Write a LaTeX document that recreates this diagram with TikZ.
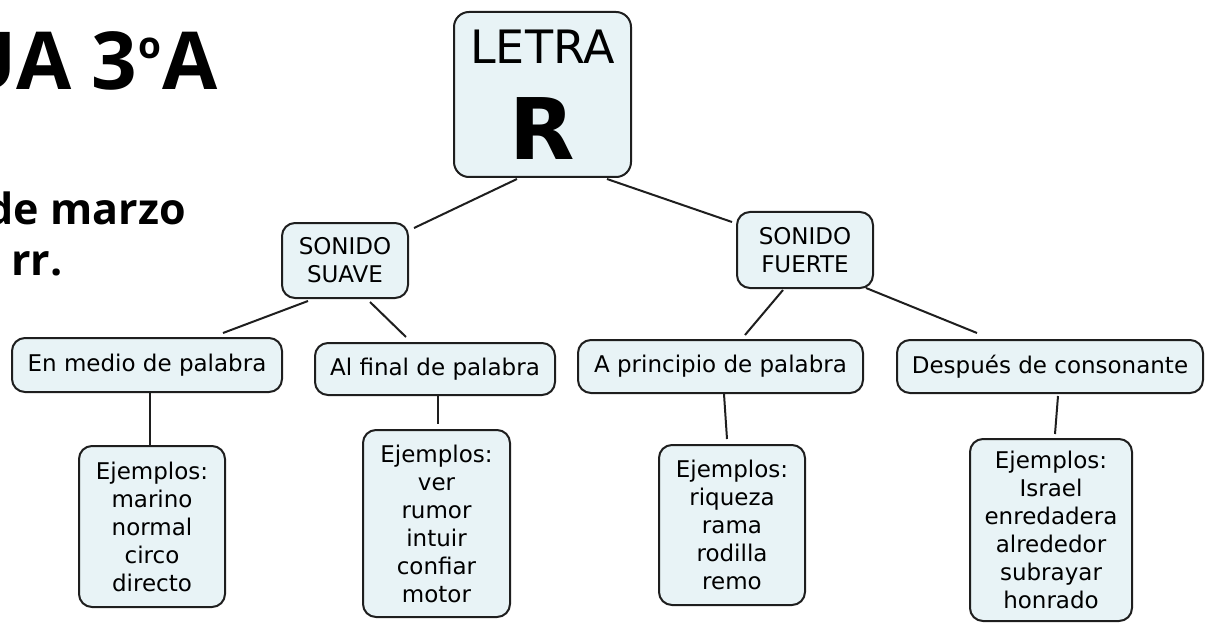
\documentclass[tikz,border=0pt]{standalone}
\usepackage{fontspec}
\setmainfont{DejaVu Sans}
\newfontfamily\titlefont{Open Sans}
\definecolor{boxfill}{RGB}{232,243,246}
\definecolor{boxline}{RGB}{30,30,30}
\tikzset{
    concept/.style={draw=boxline,line width=2pt,fill=boxfill,rounded corners=13pt,align=center,inner xsep=14pt,inner ysep=0pt,font=\fontsize{23}{28}\selectfont},
    link/.style={draw=boxline,line width=2pt},
    heading/.style={anchor=base east,inner sep=0pt,font=\titlefont\bfseries\fontsize{#1}{#1}\selectfont}
}
\begin{document}
\begin{tikzpicture}[x=1pt,y=-1pt]
    \useasboundingbox (0,0) rectangle (1211,623);
    \node[heading=80] (curso) at (218,90) {UA 3\kern1pt\raisebox{31pt}{\fontsize{37}{37}\selectfont o}\kern1pt A};
    \node[heading=43] (fecha) at (186,225) {de marzo};
    \node[heading=43] (tema) at (63,275) {, rr.};

    \node[concept,minimum width=177pt,minimum height=165pt,rounded corners=15pt,font=\fontsize{46}{96}\selectfont] (letra) at (542.5,94.5) {LETRA\\\fontsize{85}{96}\selectfont\bfseries R};

    \node[concept,minimum width=126pt,minimum height=75pt] (suave) at (345,260.5) {SONIDO\\SUAVE};
    \node[concept,minimum width=136pt,minimum height=76pt] (fuerte) at (805,250) {SONIDO\\FUERTE};

    \node[concept,minimum width=270pt,minimum height=54pt] (medio) at (147,365) {En medio de palabra};
    \node[concept,minimum width=240pt,minimum height=52pt] (final) at (435,369) {Al final de palabra};
    \node[concept,minimum width=285pt,minimum height=53pt] (principio) at (720.5,366.5) {A principio de palabra};
    \node[concept,minimum width=306pt,minimum height=53pt] (despues) at (1050,366.5) {Después de consonante};

    \node[concept,minimum width=146pt,minimum height=161pt] (ejmedio) at (152,526.5) {Ejemplos:\\marino\\normal\\circo\\directo};
    \node[concept,minimum width=147pt,minimum height=187pt] (ejfinal) at (436.5,523.5) {Ejemplos:\\ver\\rumor\\intuir\\confiar\\motor};
    \node[concept,minimum width=146pt,minimum height=160pt] (ejprincipio) at (732,525) {Ejemplos:\\riqueza\\rama\\rodilla\\remo};
    \node[concept,minimum width=162pt,minimum height=182pt] (ejdespues) at (1051,530) {Ejemplos:\\Israel\\enredadera\\alrededor\\subrayar\\honrado};

    \draw[link] ([shift={(-25.5,1)}]letra.south) -- ([shift={(5,6)}]suave.north east);
    \draw[link] ([shift={(64.5,1)}]letra.south) -- ([shift={(-4,11)}]fuerte.north west);
    \draw[link] ([shift={(-37,2)}]suave.south) -- ([shift={(76,-4)}]medio.north);
    \draw[link] ([shift={(25,3)}]suave.south) -- ([shift={(-29,-5)}]final.north);
    \draw[link] ([shift={(-22,1)}]fuerte.south) -- ([shift={(24.5,-4)}]principio.north);
    \draw[link] ([shift={(-8,-1)}]fuerte.south east) -- ([shift={(-73,-6)}]despues.north);
    \draw[link] ([shift={(3,0)}]medio.south) -- ([shift={(-2,0)}]ejmedio.north);
    \draw[link] ([shift={(3,0)}]final.south) -- ([shift={(1.5,-5)}]ejfinal.north);
    \draw[link] ([shift={(3.5,0)}]principio.south) -- ([shift={(-5,-5)}]ejprincipio.north);
    \draw[link] ([shift={(8,2)}]despues.south) -- ([shift={(4,-4)}]ejdespues.north);
\end{tikzpicture}
\end{document}
